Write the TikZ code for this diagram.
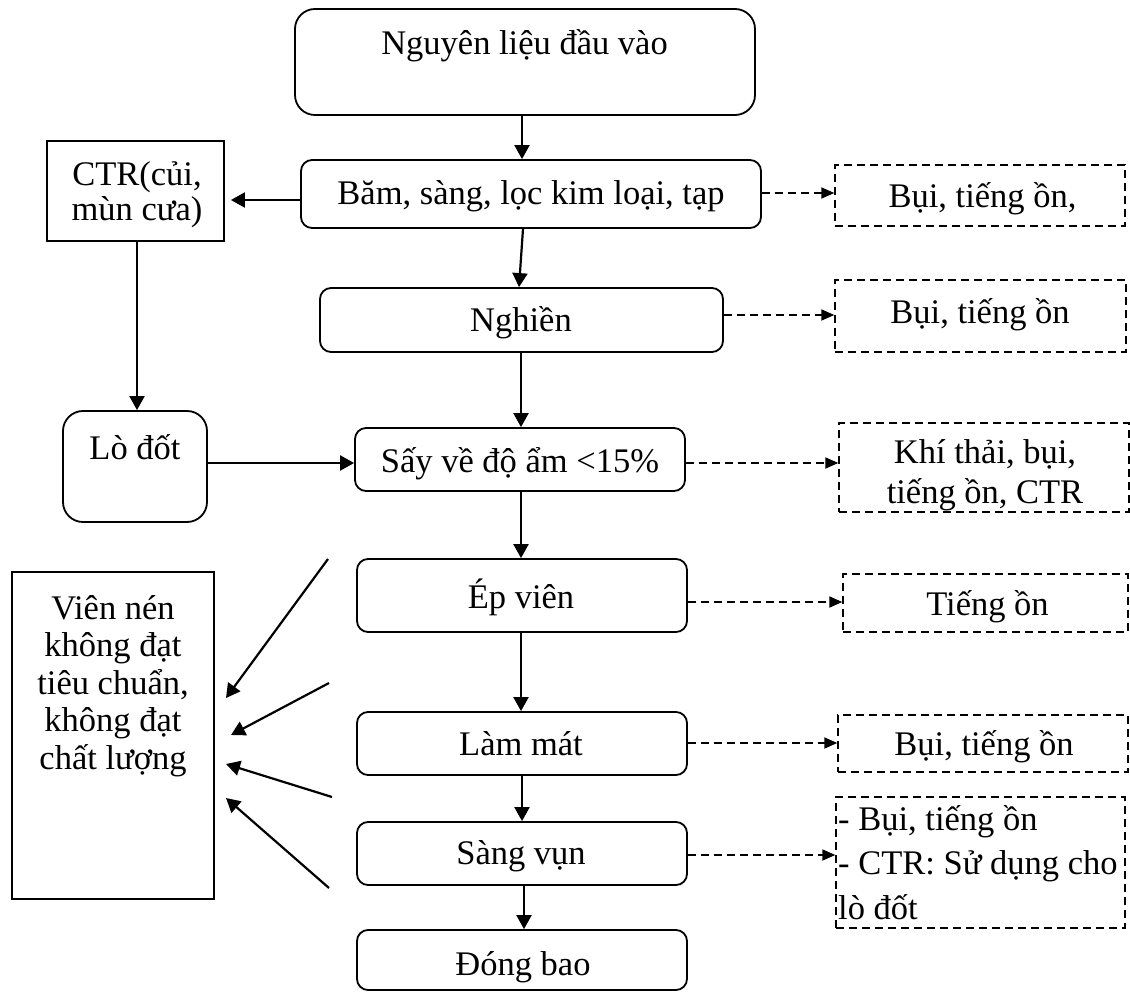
\documentclass[tikz,border=0pt]{standalone}
\usepackage{fontspec}
\setmainfont{Liberation Serif}
\usetikzlibrary{arrows.meta}
\begin{document}
\begin{tikzpicture}[x=1pt,y=-1pt,
  box/.style={draw, line width=1.8pt, rounded corners=11pt, inner sep=0pt},
  sbox/.style={draw, line width=1.8pt, inner sep=0pt},
  dbox/.style={draw, line width=1.4pt, dash pattern=on 8pt off 5pt, inner sep=0pt},
  txt/.style={inner sep=0pt, font=\fontsize{34.5}{39}\selectfont},
  arr/.style={line width=2.2pt, -{Triangle[length=14pt,width=15pt]}},
  darr/.style={line width=1.8pt, dash pattern=on 8pt off 5pt, -{Triangle[length=13pt,width=11pt]}},
]
\useasboundingbox (0,0) rectangle (1130,992);

% main column
\node[box, rounded corners=20pt, minimum width=460pt, minimum height=106pt] (nguyen) at (525,62) {};
\node[box, minimum width=460pt, minimum height=68pt] (bam) at (531,194) {};
\node[box, minimum width=403pt, minimum height=64pt] (nghien) at (521.5,320) {};
\node[box, minimum width=330pt, minimum height=63pt] (say) at (520,459.5) {};
\node[box, minimum width=330pt, minimum height=73pt] (ep) at (522,595.5) {};
\node[box, minimum width=330pt, minimum height=63pt] (lammat) at (522,743.5) {};
\node[box, minimum width=330pt, minimum height=63pt] (sang) at (522,853.5) {};
\node[box, minimum width=330pt, minimum height=60pt] (dong) at (522,960) {};

% left column
\node[sbox, minimum width=177pt, minimum height=100pt] (ctr) at (135.5,191) {};
\node[box, rounded corners=20pt, minimum width=144pt, minimum height=111pt] (lodot) at (135,466.5) {};
\node[sbox, minimum width=202pt, minimum height=327pt] (vien) at (113,735.5) {};

% right column
\node[dbox, minimum width=290pt, minimum height=61pt] (d1) at (980,195.5) {};
\node[dbox, minimum width=291pt, minimum height=72pt] (d2) at (980.5,316) {};
\node[dbox, minimum width=290pt, minimum height=89pt] (d3) at (984,467.5) {};
\node[dbox, minimum width=285pt, minimum height=58pt] (d4) at (985.5,603) {};
\node[dbox, minimum width=290pt, minimum height=57pt] (d5) at (983,743.5) {};
\node[dbox, minimum width=289pt, minimum height=131pt] (d6) at (980.5,862.5) {};

% texts (multi-line nodes: base = baseline of last line)
\node[txt, anchor=base] (tnguyen) at (524.5,55) {Nguyên liệu đầu vào};
\node[txt, anchor=base] (tbam) at (531,205) {Băm, sàng, lọc kim loại, tạp};
\node[txt, anchor=base] (tnghien) at (521,331) {Nghiền};
\node[txt, anchor=base] (tsay) at (520,472) {Sấy về độ ẩm <15\%};
\node[txt, anchor=base] (tep) at (521,608) {Ép viên};
\node[txt, anchor=base] (tlammat) at (521,755) {Làm mát};
\node[txt, anchor=base] (tsang) at (521,864) {Sàng vụn};
\node[txt, anchor=base] (tdong) at (523,975) {Đóng bao};
\node[txt, anchor=base, align=center, font=\fontsize{34.5}{35}\selectfont] (tctr) at (137,221) {CTR(củi,\\mùn cưa)};
\node[txt, anchor=base] (tlodot) at (135,459) {Lò đốt};
\node[txt, anchor=base, align=center, font=\fontsize{34.5}{37.5}\selectfont] (tvien) at (113,769) {Viên nén\\không đạt\\tiêu chuẩn,\\không đạt\\chất lượng};
\node[txt, anchor=base] (td1) at (982.5,208) {Bụi, tiếng ồn,};
\node[txt, anchor=base] (td2) at (980,324) {Bụi, tiếng ồn};
\node[txt, anchor=base, align=center, font=\fontsize{34.5}{40}\selectfont] (td3) at (985,503) {Khí thải, bụi,\\tiếng ồn, CTR};
\node[txt, anchor=base] (td4) at (987.5,615) {Tiếng ồn};
\node[txt, anchor=base] (td5) at (984,755) {Bụi, tiếng ồn};
\node[txt, anchor=base west, align=left, font=\fontsize{34.5}{44.5}\selectfont] (td6) at (838,919) {- Bụi, tiếng ồn\\- CTR: Sử dụng cho\\lò đốt};

% main flow
\draw[arr] (nguyen.south -| 522,0) -- (bam.north -| 522,0);
\draw[arr] (bam.south -| 523,0) -- (nghien.north -| 519,0);
\draw[arr] (nghien.south -| 521,0) -- (say.north -| 521,0);
\draw[arr] (say.south -| 521,0) -- (ep.north -| 521,0);
\draw[arr] (ep.south -| 521,0) -- (lammat.north -| 521,0);
\draw[arr] (lammat.south -| 522,0) -- (sang.north -| 522,0);
\draw[arr] (sang.south -| 524,0) -- (dong.north -| 524,0);

% left side
\draw[arr, shorten >=6pt] (bam.west |- 0,200) -- (ctr.east |- 0,200);
\draw[arr] (ctr.south -| 137,0) -- (lodot.north -| 137,0);
\draw[arr] (lodot.east |- 0,463) -- (say.west |- 0,463);

% emissions
\draw[darr] (bam.east |- 0,193) -- (d1.west |- 0,193);
\draw[darr] (nghien.east |- 0,315) -- (d2.west |- 0,315);
\draw[darr] (say.east |- 0,463) -- (d3.west |- 0,463);
\draw[darr] (ep.east |- 0,602) -- (d4.west |- 0,602);
\draw[darr] (lammat.east |- 0,743) -- (d5.west |- 0,743);
\draw[darr] (sang.east |- 0,855) -- (d6.west |- 0,855);

% rejected pellets
\coordinate (s1) at (328,559); \coordinate (e1) at (226,698);
\coordinate (s2) at (329,683); \coordinate (e2) at (231,735);
\coordinate (s3) at (332,797); \coordinate (e3) at (226,764);
\coordinate (s4) at (329,888); \coordinate (e4) at (226,798);
\draw[arr] (s1) -- (e1);
\draw[arr] (s2) -- (e2);
\draw[arr] (s3) -- (e3);
\draw[arr] (s4) -- (e4);
\end{tikzpicture}
\end{document}
